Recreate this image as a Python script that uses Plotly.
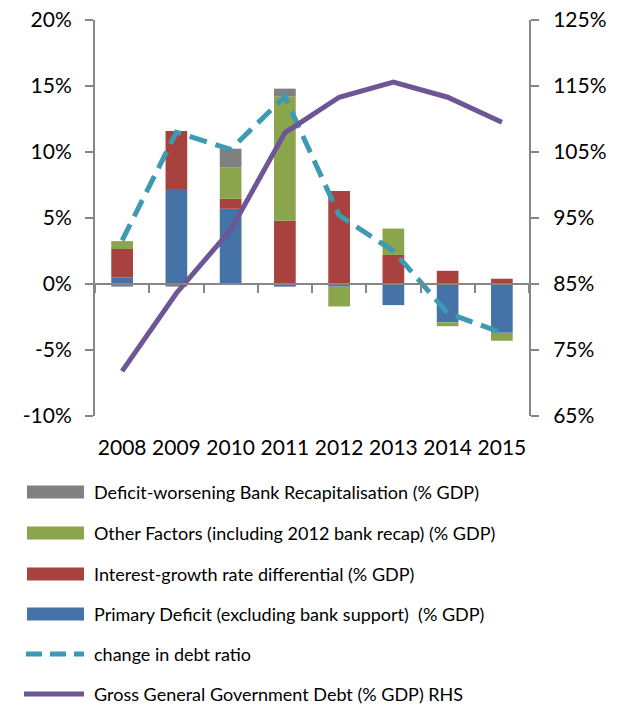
import plotly.graph_objects as go

years = ["2008", "2009", "2010", "2011", "2012", "2013", "2014", "2015"]
primary_deficit = [0.5, 7.2, 5.7, -0.2, -0.2, -1.6, -2.9, -3.7]
interest_growth = [2.15, 4.4, 0.75, 4.8, 7.05, 2.2, 1.0, 0.4]
other_factors = [0.6, 0.0, 2.4, 9.4, -1.5, 2.0, -0.3, -0.6]
bank_recap = [-0.2, -0.2, 1.4, 0.6, 0.0, 0.0, 0.0, 0.0]
change_debt_ratio = [3.3, 11.5, 10.2, 14.2, 5.2, 2.5, -2.2, -3.7]
gross_debt = [71.8, 83.6, 93.2, 107.9, 113.3, 115.6, 113.3, 109.5]

left_ticks = [-10, -5, 0, 5, 10, 15, 20]
left_labels = ["-10%", "-5%", "0%", "5%", "10%", "15%", "20%"]
right_ticks = [65, 75, 85, 95, 105, 115, 125]
right_labels = ["65%", "75%", "85%", "95%", "105%", "115%", "125%"]

names = [
    "Deficit-worsening Bank Recapitalisation (% GDP)",
    "Other Factors (including 2012 bank recap) (% GDP)",
    "Interest-growth rate differential (% GDP)",
    "Primary Deficit (excluding bank support)  (% GDP)",
    "change in debt ratio",
    "Gross General Government Debt (% GDP) RHS",
]
C_GRAY, C_GREEN, C_RED, C_BLUE = "#808080", "#8BA54D", "#A8423F", "#4573A7"
C_TEAL, C_PURPLE = "#3C9AB2", "#6E5594"
AX = "#868686"
FONT = "Lato"

fig = go.Figure()
for vals, col in [(primary_deficit, C_BLUE), (interest_growth, C_RED),
                  (other_factors, C_GREEN), (bank_recap, C_GRAY)]:
    fig.add_trace(go.Bar(x=years, y=vals, marker_color=col, width=0.4,
                         showlegend=False, marker_line_width=0))
fig.add_trace(go.Scatter(x=years, y=change_debt_ratio, mode="lines",
                         line=dict(color=C_TEAL, width=5, dash="18px,9px"),
                         showlegend=False))
fig.add_trace(go.Scatter(x=years, y=gross_debt, mode="lines", yaxis="y2",
                         line=dict(color=C_PURPLE, width=5), showlegend=False))
# invisible trace carrying the zero-line axis with boundary ticks
fig.add_trace(go.Scatter(x=years, y=[0] * len(years), xaxis="x2", mode="markers",
                         marker=dict(opacity=0), showlegend=False, hoverinfo="skip"))

L, R, T, B = 95, 89, 20, 289
W, H = 618, 705
pw, ph = W - L - R, H - T - B

def px(x):
    return (x - L) / pw

def py(y):
    return (H - B - y) / ph

fig.update_layout(
    width=W, height=H, margin=dict(l=L, r=R, t=T, b=B, autoexpand=False),
    paper_bgcolor="white", plot_bgcolor="white",
    barmode="relative",
    font=dict(family=FONT, size=21, color="#000000"),
    xaxis=dict(type="category", range=[-0.5, 7.5], showline=False, ticks="",
               showgrid=False, ticklabelstandoff=17, tickangle=0,
               automargin=False, tickfont=dict(size=21)),
    xaxis2=dict(type="category", range=[-0.5, 7.5], overlaying="x", anchor="free",
                position=1 / 3, showline=True, linecolor=AX, linewidth=2,
                ticks="outside", tickson="boundaries", ticklen=8, tickwidth=2,
                tickcolor=AX, showticklabels=False, showgrid=False,
                automargin=False),
    yaxis=dict(range=[-10, 20], tickmode="array", tickvals=left_ticks,
               ticktext=left_labels, showgrid=False,
               zeroline=False, showline=True, linecolor=AX, linewidth=2,
               ticks="outside", ticklen=8, tickwidth=2, tickcolor=AX,
               ticklabelstandoff=9, automargin=False),
    yaxis2=dict(range=[65, 125], tickmode="array", tickvals=right_ticks,
                ticktext=right_labels, overlaying="y",
                side="right", showgrid=False, zeroline=False, showline=True,
                linecolor=AX, linewidth=2, ticks="outside", ticklen=8,
                tickwidth=2, tickcolor=AX, ticklabelstandoff=10,
                automargin=False),
)

# manual legend
rows_y = [492, 533, 574, 614, 654, 694]
sym_x0, sym_x1, text_x = 27, 84, 92
shapes = []
for i, col in enumerate([C_GRAY, C_GREEN, C_RED, C_BLUE]):
    yc = rows_y[i]
    shapes.append(dict(type="rect", xref="paper", yref="paper",
                       x0=px(sym_x0), x1=px(sym_x1), y0=py(yc + 6.5), y1=py(yc - 6.5),
                       fillcolor=col, line=dict(width=0)))
shapes.append(dict(type="line", xref="paper", yref="paper",
                   x0=px(sym_x0 - 1), x1=px(sym_x1), y0=py(rows_y[4]), y1=py(rows_y[4]),
                   line=dict(color=C_TEAL, width=5, dash="16px,8px")))
shapes.append(dict(type="line", xref="paper", yref="paper",
                   x0=px(sym_x0 - 3), x1=px(sym_x1), y0=py(rows_y[5]), y1=py(rows_y[5]),
                   line=dict(color=C_PURPLE, width=5)))
fig.update_layout(shapes=shapes)
for name, yc in zip(names, rows_y):
    fig.add_annotation(x=px(text_x), y=py(yc), xref="paper", yref="paper",
                       text=name, showarrow=False, xanchor="left", yanchor="middle",
                       font=dict(family=FONT, size=18, color="#000000"))

fig.write_html("out.html", config={"displayModeBar": False},
               post_script="document.body.style.margin='0px';document.body.style.overflow='hidden';")
